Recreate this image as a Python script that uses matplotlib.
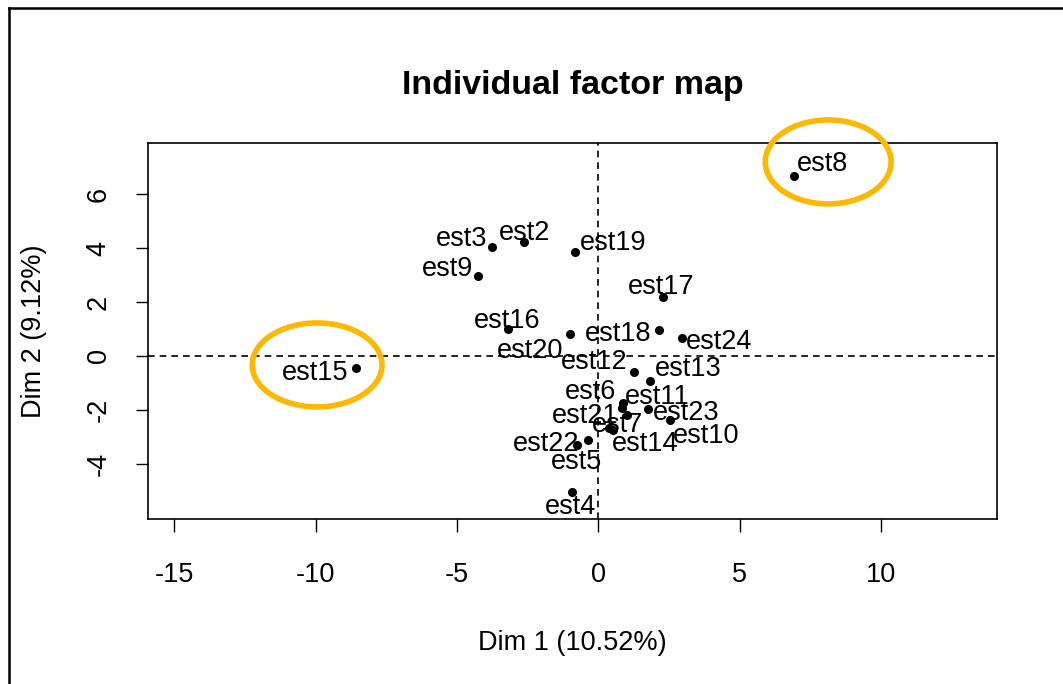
import matplotlib
matplotlib.use('Agg')
import matplotlib.pyplot as plt
from matplotlib.patches import Ellipse
from matplotlib.lines import Line2D

plt.rcParams['font.family'] = ['Liberation Sans', 'DejaVu Sans']
plt.rcParams['axes.unicode_minus'] = False

# individual coordinates on the first two dimensions
labels = ['est8', 'est3', 'est2', 'est19', 'est9', 'est17', 'est16', 'est20',
          'est18', 'est24', 'est15', 'est12', 'est13', 'est6', 'est11', 'est21',
          'est23', 'est10', 'est7', 'est14', 'est22', 'est5', 'est4']
dim1 = [6.91, -3.77, -2.63, -0.83, -4.26, 2.28, -3.20, -1.01,
        2.14, 2.95, -8.57, 1.26, 1.82, 0.86, 0.82, 1.00,
        1.76, 2.53, 0.38, 0.52, -0.77, -0.36, -0.94]
dim2 = [6.67, 4.04, 4.22, 3.85, 2.96, 2.19, 1.00, 0.81,
        0.96, 0.67, -0.44, -0.59, -0.93, -1.73, -1.94, -2.19,
        -1.96, -2.37, -2.68, -2.74, -3.30, -3.11, -5.04]

# label offsets (pixels) to mimic the autoLab placement
lab_dx = [29, -30, 0, 38, -31, -2, -1, -40, -41, 37, -41, -40, 38,
          -32, 36, -42, 38, 36, 8, 32, -31, -12, -1]
lab_dy = [12, 8, 9, 9, 7, 10, 8, -17, -4, -4, -5, 10, 12,
          11, 11, -1, -4, -16, 3, -14, 1, -22, -15]

# highlighted individuals (ellipse centre / size in data units)
hl_x = [8.12, -9.95]
hl_y = [7.19, -0.33]
hl_w = [4.45, 4.59]
hl_h = [3.11, 3.11]

fig = plt.figure(figsize=(10.63, 6.84), dpi=100)
ax = fig.add_axes([0.1392, 0.2412, 0.7987, 0.5497])

ax.plot(dim1, dim2, 'o', color='black', markersize=5.5, linestyle='none')
for lab, x, y, dx, dy in zip(labels, dim1, dim2, lab_dx, lab_dy):
    ax.annotate(lab, (x, y), xytext=(dx, dy), textcoords='offset pixels',
                ha='center', va='center', fontsize=19.5)

ax.axhline(0, color='black', linestyle=(0, (4, 3)), linewidth=1.2)
ax.axvline(0, color='black', linestyle=(0, (4, 3)), linewidth=1.2)

for x, y, w, h in zip(hl_x, hl_y, hl_w, hl_h):
    ax.add_patch(Ellipse((x, y), w, h, fill=False, edgecolor='#FFB800',
                         linewidth=4, clip_on=False, zorder=5))

ax.set_xlim(-15.93, 14.09)
ax.set_ylim(-6.04, 7.89)
ax.set_xticks([-15, -10, -5, 0, 5, 10])
ax.set_yticks([-4, -2, 0, 2, 4, 6])
ax.set_yticklabels(['-4', '-2', '0', '2', '4', '6'], rotation=90, va='center')
ax.tick_params(direction='out', length=9, width=1, labelsize=19.5)
ax.tick_params(axis='x', pad=22)
ax.tick_params(axis='y', pad=17)
for s in ax.spines.values():
    s.set_linewidth(1.2)

ax.set_title('Individual factor map', fontsize=24.5, fontweight='bold', pad=35)
ax.set_xlabel('Dim 1 (10.52%)', fontsize=19.5, labelpad=30)
ax.set_ylabel('Dim 2 (9.12%)', fontsize=19.5, labelpad=28)

# outer frame of the screenshot
fig.add_artist(Line2D([9 / 1063, 9 / 1063], [0, 1 - 8 / 684], color='black',
                      linewidth=1.8, transform=fig.transFigure))
fig.add_artist(Line2D([9 / 1063, 1], [1 - 8 / 684, 1 - 8 / 684], color='black',
                      linewidth=1.8, transform=fig.transFigure))

fig.savefig('out.png', dpi=100)
